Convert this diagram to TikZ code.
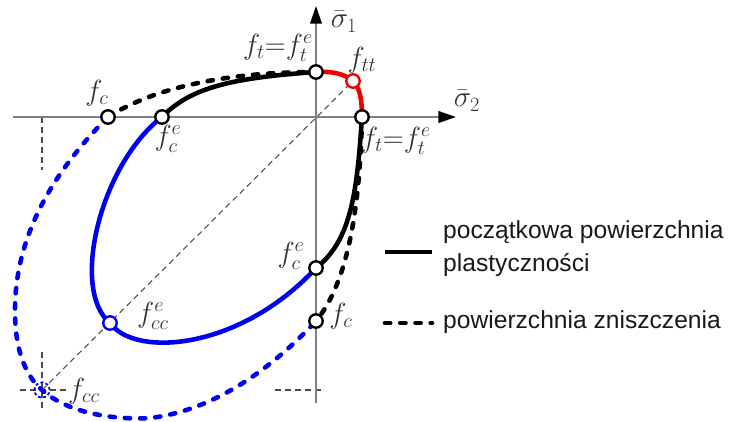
\documentclass[tikz,border=0pt]{standalone}
\usepackage{fontspec}
\setmainfont{Liberation Sans}
\usetikzlibrary{arrows.meta}
\definecolor{myblue}{RGB}{0,0,240}
\definecolor{myred}{RGB}{240,0,0}
\begin{document}
\begin{tikzpicture}[x=0.03cm,y=-0.03cm,
  axis/.style={draw=black!50, line width=1.2pt, -{Triangle[length=15pt,width=10pt,color=black]}},
  yield/.style={line width=3.9pt},
  fail/.style={line width=3.9pt, line cap=round, dash pattern=on 4.5pt off 8.5pt},
  guide/.style={draw=black!70, line width=0.9pt, dash pattern=on 5pt off 3.5pt},
  pt/.style={circle, draw, fill=white, line width=2pt, inner sep=0pt, minimum size=11.5pt},
  lbl/.style={font=\fontsize{23}{27}\selectfont, text=black!80, inner sep=0pt},
  leg/.style={font=\fontsize{21}{28}\selectfont, text=black!90, align=left, anchor=west, inner sep=0pt}]
\useasboundingbox (0,0) rectangle (730,421);
% key points
\coordinate (O) at (316,117);
\coordinate (xs) at (13,117);
\coordinate (xe) at (456,117);
\coordinate (ys) at (316,403);
\coordinate (ye) at (316,6);
\coordinate (g1a) at (42,117);
\coordinate (g1b) at (42,170);
\coordinate (g2a) at (275,390);
\coordinate (g2b) at (322,390);
\coordinate (g3a) at (20,390);
\coordinate (g3b) at (68,390);
\coordinate (g4a) at (42,352);
\coordinate (g4b) at (42,410);
\coordinate (Pft1) at (316,72);
\coordinate (Pftt) at (353,81);
\coordinate (Pft2) at (362,117);
\coordinate (Pfc1) at (108,117);
\coordinate (Pfce1) at (162,117);
\coordinate (Pfce2) at (316,268);
\coordinate (Pfc2) at (316,321);
\coordinate (Pfcce) at (110,323);
\coordinate (Pfcc) at (42,390);
% guides
\draw[guide] (g1a) -- (g1b);
\draw[guide] (g2a) -- (g2b);
\draw[guide] (g3a) -- (g3b);
\draw[guide] (g4a) -- (g4b);
\draw[guide] (Pfcc) -- (Pftt);
% axes
\draw[axis] (xs) -- (xe);
\draw[axis] (ys) -- (ye);
% failure surface (dashed)
\draw[fail] (Pfc1) .. controls (150,90) and (220,72) .. (Pft1);
\draw[fail] (Pft2) .. controls (360,200) and (350,280) .. (Pfc2);
\draw[fail, myblue] (Pfc1) .. controls (60,165) and (15,230) .. (15,310)
   .. controls (15,350) and (25,375) .. (Pfcc)
   .. controls (70,415) and (120,420) .. (150,418)
   .. controls (220,410) and (280,360) .. (Pfc2);
% initial yield surface (solid)
\draw[yield] (Pfce1) .. controls (190,88) and (230,78) .. (Pft1);
\draw[yield] (Pft2) .. controls (357,190) and (352,240) .. (Pfce2);
\draw[yield, myred] (Pft1) .. controls (332,71) and (345,74) .. (Pftt)
   .. controls (360,88) and (362,100) .. (Pft2);
\draw[yield, myblue] (Pfce1) .. controls (100,165) and (70,290) .. (Pfcce)
   .. controls (135,358) and (240,350) .. (Pfce2);
% points
\node[pt] (ft1) at (Pft1) {};
\node[pt, draw=myred] (ftt) at (Pftt) {};
\node[pt] (ft2) at (Pft2) {};
\node[pt] (fc1) at (Pfc1) {};
\node[pt] (fce1) at (Pfce1) {};
\node[pt] (fce2) at (Pfce2) {};
\node[pt] (fc2) at (Pfc2) {};
\node[pt, draw=myblue] (fcce) at (Pfcce) {};
\node[circle, draw=myblue, line width=1.5pt, dash pattern=on 2.5pt off 2pt, inner sep=0pt, minimum size=13pt] (fcc) at (Pfcc) {};
% labels
\node[lbl, font=\fontsize{25}{29}\selectfont] (s1) at (344,22) {$\bar{\sigma}_1$};
\node[lbl, font=\fontsize{25}{29}\selectfont] (s2) at (467,101) {$\bar{\sigma}_2$};
\node[lbl] (lft1) at (278,48) {$f_t{=}f_t^e$};
\node[lbl] (lftt) at (362,60) {$f_{tt}$};
\node[lbl] (lft2) at (396,141) {$f_t{=}f_t^e$};
\node[lbl] (lfc1) at (97,93) {$f_c$};
\node[lbl] (lfce1) at (168,139) {$f_c^e$};
\node[lbl] (lfce2) at (291,256) {$f_c^e$};
\node[lbl] (lfc2) at (341,316) {$f_c$};
\node[lbl] (lfcce) at (153,316) {$f_{cc}^e$};
\node[lbl] (lfcc) at (84,391) {$f_{cc}$};
% legend
\coordinate (l1a) at (385,252);
\coordinate (l1b) at (432,252);
\coordinate (l2a) at (385,323);
\coordinate (l2b) at (432,323);
\draw[yield] (l1a) -- (l1b);
\draw[fail] (l2a) -- (l2b);
\node[leg] (t1) at (443,249) {początkowa powierzchnia\\plastyczności};
\node[leg] (t2) at (443,322) {powierzchnia zniszczenia};
\end{tikzpicture}
\end{document}
